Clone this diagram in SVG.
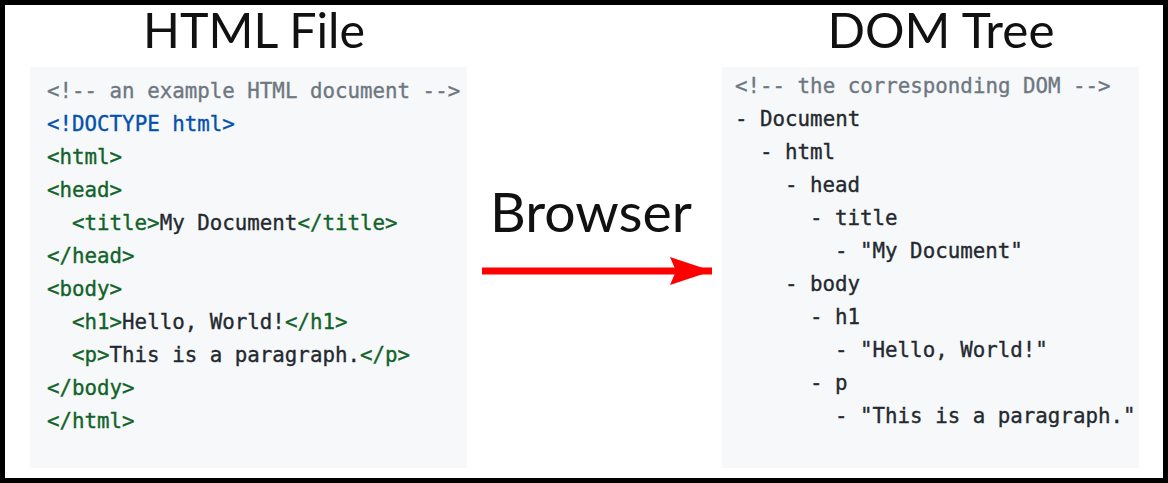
<svg xmlns="http://www.w3.org/2000/svg" width="1168" height="483" viewBox="0 0 1168 483">
<style>
.title{font-family:Lato,"Open Sans",sans-serif;fill:#111;text-anchor:middle}
.code{font-family:"DejaVu Sans Mono","Liberation Mono",monospace;font-size:20.8px;fill:#24292f;stroke:#24292f;stroke-width:0.35;white-space:pre}
.c{fill:#6e7781;stroke:#6e7781}
.b{fill:#0550ae;stroke:#0550ae}
.g{fill:#116329;stroke:#116329}
.box{fill:#f6f8fa}
</style>
<defs>
<marker id="ah" markerUnits="userSpaceOnUse" markerWidth="44" markerHeight="30" refX="42" refY="14" orient="auto">
<polygon points="0,0 42,14 0,28 6,14" fill="#ff0000"/>
</marker>
</defs>
<rect x="0" y="0" width="1168" height="483" fill="#ffffff"/>
<rect x="2.5" y="2.5" width="1163" height="478" fill="none" stroke="#000" stroke-width="5"/>
<g id="html-file">
<text class="title" x="254" y="48" font-size="48" textLength="222" lengthAdjust="spacingAndGlyphs">HTML File</text>
<rect class="box" x="30" y="67" width="437" height="401"/>
<text class="code" x="47" y="98"><tspan class="c">&lt;!-- an example HTML document --&gt;</tspan></text>
<text class="code" x="47" y="131"><tspan class="b">&lt;!DOCTYPE html&gt;</tspan></text>
<text class="code" x="47" y="164"><tspan class="g">&lt;html&gt;</tspan></text>
<text class="code" x="47" y="197"><tspan class="g">&lt;head&gt;</tspan></text>
<text class="code" x="72" y="230"><tspan class="g">&lt;title&gt;</tspan>My Document<tspan class="g">&lt;/title&gt;</tspan></text>
<text class="code" x="47" y="263"><tspan class="g">&lt;/head&gt;</tspan></text>
<text class="code" x="47" y="296"><tspan class="g">&lt;body&gt;</tspan></text>
<text class="code" x="72" y="329"><tspan class="g">&lt;h1&gt;</tspan>Hello, World!<tspan class="g">&lt;/h1&gt;</tspan></text>
<text class="code" x="72" y="362"><tspan class="g">&lt;p&gt;</tspan>This is a paragraph.<tspan class="g">&lt;/p&gt;</tspan></text>
<text class="code" x="47" y="395"><tspan class="g">&lt;/body&gt;</tspan></text>
<text class="code" x="47" y="428"><tspan class="g">&lt;/html&gt;</tspan></text>
</g>
<g id="dom-tree">
<text class="title" x="941" y="48" font-size="48" textLength="227" lengthAdjust="spacingAndGlyphs">DOM Tree</text>
<rect class="box" x="722" y="67" width="417" height="401"/>
<text class="code c" x="735" y="93">&lt;!-- the corresponding DOM --&gt;</text>
<text class="code" x="735" y="126">- Document</text>
<text class="code" x="760" y="159">- html</text>
<text class="code" x="785" y="192">- head</text>
<text class="code" x="810" y="225">- title</text>
<text class="code" x="835" y="258">- "My Document"</text>
<text class="code" x="785" y="291">- body</text>
<text class="code" x="810" y="324">- h1</text>
<text class="code" x="835" y="357">- "Hello, World!"</text>
<text class="code" x="810" y="390">- p</text>
<text class="code" x="835" y="423">- "This is a paragraph."</text>
</g>
<g id="browser">
<text class="title" x="591" y="232" font-size="54" textLength="202" lengthAdjust="spacingAndGlyphs">Browser</text>
</g>
<g id="connectors">
<line x1="482" y1="271" x2="712" y2="271" stroke="#ff0000" stroke-width="7" marker-end="url(#ah)"/>
</g>
</svg>
